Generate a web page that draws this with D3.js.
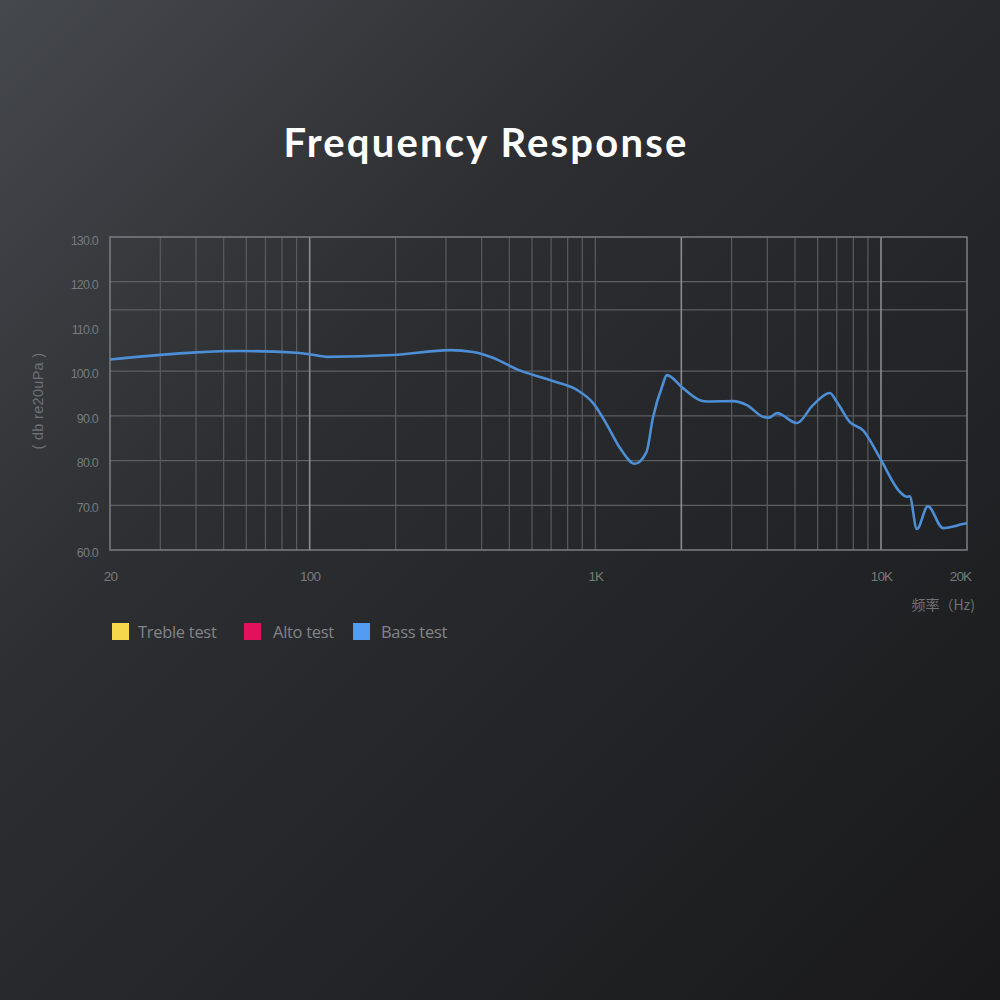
<!DOCTYPE html>
<html><head><meta charset="utf-8">
<script src="https://cdn.jsdelivr.net/npm/d3@7"></script>
<style>html,body{margin:0;padding:0;background:#222;}svg{display:block;}</style>
</head><body>
<script>
// ---- data ----
const freqs = [20, 40, 56, 90, 109, 115, 196, 310, 373, 438, 532, 710, 862, 981, 1098, 1220, 1375, 1510, 1590, 1720, 1780, 2026, 2323, 2458, 3030, 3394, 3862, 4050, 4322, 5078, 5777, 6620, 7008, 7780, 8640, 9910, 11640, 12320, 12600, 13350, 14590, 16470, 19340, 20000];
const bassDb = [102.6, 104.2, 104.5, 104.1, 103.4, 103.2, 103.6, 104.7, 104.3, 103.0, 100.4, 97.8, 95.8, 92.9, 88.0, 82.8, 79.3, 81.9, 89.5, 96.9, 99.1, 96.2, 93.5, 93.2, 93.3, 92.4, 89.8, 89.6, 90.6, 88.4, 92.4, 95.1, 93.1, 88.6, 86.8, 80.6, 73.0, 71.9, 72.0, 64.7, 69.8, 64.9, 65.8, 66.0];
const yTickValues = [130, 120, 110, 100, 90, 80, 70, 60];
const yGridValues = [120, 113.7, 100, 90, 80, 70];
const xTickValues = [20, 100, 1000, 10000, 20000];
const xTickLabels = ["20", "100", "1K", "10K", "20K"];
const xMinorGrid = [30, 40, 50, 60, 70, 80, 90, 200, 300, 400, 500, 600, 700, 800, 900, 1000, 3000, 4000, 5000, 6000, 7000, 8000, 9000];
const xMajorGrid = [100, 2000, 10000];
const legendNames = ["Treble test", "Alto test", "Bass test"];
const legendColors = ["#f6d84c", "#e2125a", "#529df2"];

const W = 1000, H = 1000;
const svg = d3.select("body").append("svg").attr("width", W).attr("height", H);
const defs = svg.append("defs");
const g1 = defs.append("linearGradient").attr("id", "bg").attr("x1", "0").attr("y1", "0").attr("x2", "1").attr("y2", "1");
g1.append("stop").attr("offset", "0").attr("stop-color", "#45484d");
g1.append("stop").attr("offset", "0.35").attr("stop-color", "#2c2e31");
g1.append("stop").attr("offset", "1").attr("stop-color", "#19191b");
svg.append("rect").attr("width", W).attr("height", H).attr("fill", "url(#bg)");

// title
svg.append("text").attr("x", 486).attr("y", 157).attr("text-anchor", "middle")
  .attr("font-family", "Lato, 'Open Sans', sans-serif").attr("font-weight", 700)
  .attr("font-size", 40).attr("letter-spacing", 2.2).attr("fill", "#ffffff").text("Frequency Response");

const pL = 110, pR = 967, pT = 237, pB = 550;
const x = d3.scaleLog().domain([20, 20000]).range([pL, pR]);
const y = d3.scaleLinear().domain([60, 130]).range([pB, pT]);

const grid = svg.append("g");
grid.selectAll("line.hy").data(yGridValues).enter().append("line")
  .attr("x1", pL).attr("x2", pR).attr("y1", d => y(d)).attr("y2", d => y(d))
  .attr("stroke", "#5d5f63").attr("stroke-width", 1.2);
grid.selectAll("line.vmin").data(xMinorGrid).enter().append("line")
  .attr("x1", d => x(d)).attr("x2", d => x(d)).attr("y1", pT).attr("y2", pB)
  .attr("stroke", "#595b5f").attr("stroke-width", 1.2);
grid.selectAll("line.vmaj").data(xMajorGrid).enter().append("line")
  .attr("x1", d => x(d)).attr("x2", d => x(d)).attr("y1", pT).attr("y2", pB)
  .attr("stroke", "#8a8c90").attr("stroke-width", 1.6);
svg.append("rect").attr("x", pL).attr("y", pT).attr("width", pR - pL).attr("height", pB - pT)
  .attr("fill", "none").attr("stroke", "#7c7e82").attr("stroke-width", 1.5);

// y axis labels
const yLab = d3.scaleLinear().domain([60, 130]).range([552, 240]);
const yAxis = d3.axisLeft(yLab).tickValues(yTickValues).tickFormat(d3.format(".1f")).tickSize(0).tickPadding(0);
const ya = svg.append("g").attr("transform", "translate(98,0)").call(yAxis);
ya.select(".domain").remove();
ya.selectAll("text").attr("fill", "#77797d").attr("font-family", "Arial, 'Liberation Sans', sans-serif")
  .attr("font-size", 12.5).attr("letter-spacing", -0.8);

svg.append("text").attr("transform", "translate(43,401) rotate(-90)").attr("text-anchor", "middle")
  .attr("font-family", "Arial, 'Liberation Sans', sans-serif").attr("font-size", 14.5)
  .attr("letter-spacing", 0.3).attr("fill", "#6f7175").text("( db re20uPa )");

// x axis labels
const xAxis = d3.axisBottom(x).tickValues(xTickValues).tickFormat((d, i) => xTickLabels[i]).tickSize(0).tickPadding(0);
const xa = svg.append("g").attr("transform", "translate(0,571)").call(xAxis);
xa.select(".domain").remove();
xa.selectAll("text").attr("fill", "#77797d").attr("font-family", "Arial, 'Liberation Sans', sans-serif")
  .attr("font-size", 13.5).attr("letter-spacing", -0.8)
  .attr("dx", (d, i) => i === 4 ? -7 : 0);

svg.append("text").attr("x", 975).attr("y", 610).attr("text-anchor", "end")
  .attr("font-family", "'Noto Sans CJK SC', sans-serif").attr("font-size", 14)
  .attr("fill", "#6f7175").text("频率（Hz)");

// curve
const line = d3.line().x((d, i) => x(freqs[i])).y(d => y(d)).curve(d3.curveMonotoneX);
svg.append("path").datum(bassDb).attr("d", line).attr("fill", "none")
  .attr("stroke", "#4d8fd6").attr("stroke-width", 2.6).attr("stroke-linejoin", "round");

// legend
const legX = [112, 244, 353];
const legTX = [138, 273, 381];
const lg = svg.append("g");
legendNames.forEach((n, i) => {
  lg.append("rect").attr("x", legX[i]).attr("y", 623).attr("width", 17).attr("height", 17)
    .attr("fill", legendColors[i]);
  lg.append("text").attr("x", legTX[i]).attr("y", 638)
    .attr("font-family", "'Open Sans', 'Noto Sans', sans-serif").attr("font-size", 16.5)
    .attr("letter-spacing", -0.3).attr("fill", "#828488").text(n);
});
</script>
</body></html>
